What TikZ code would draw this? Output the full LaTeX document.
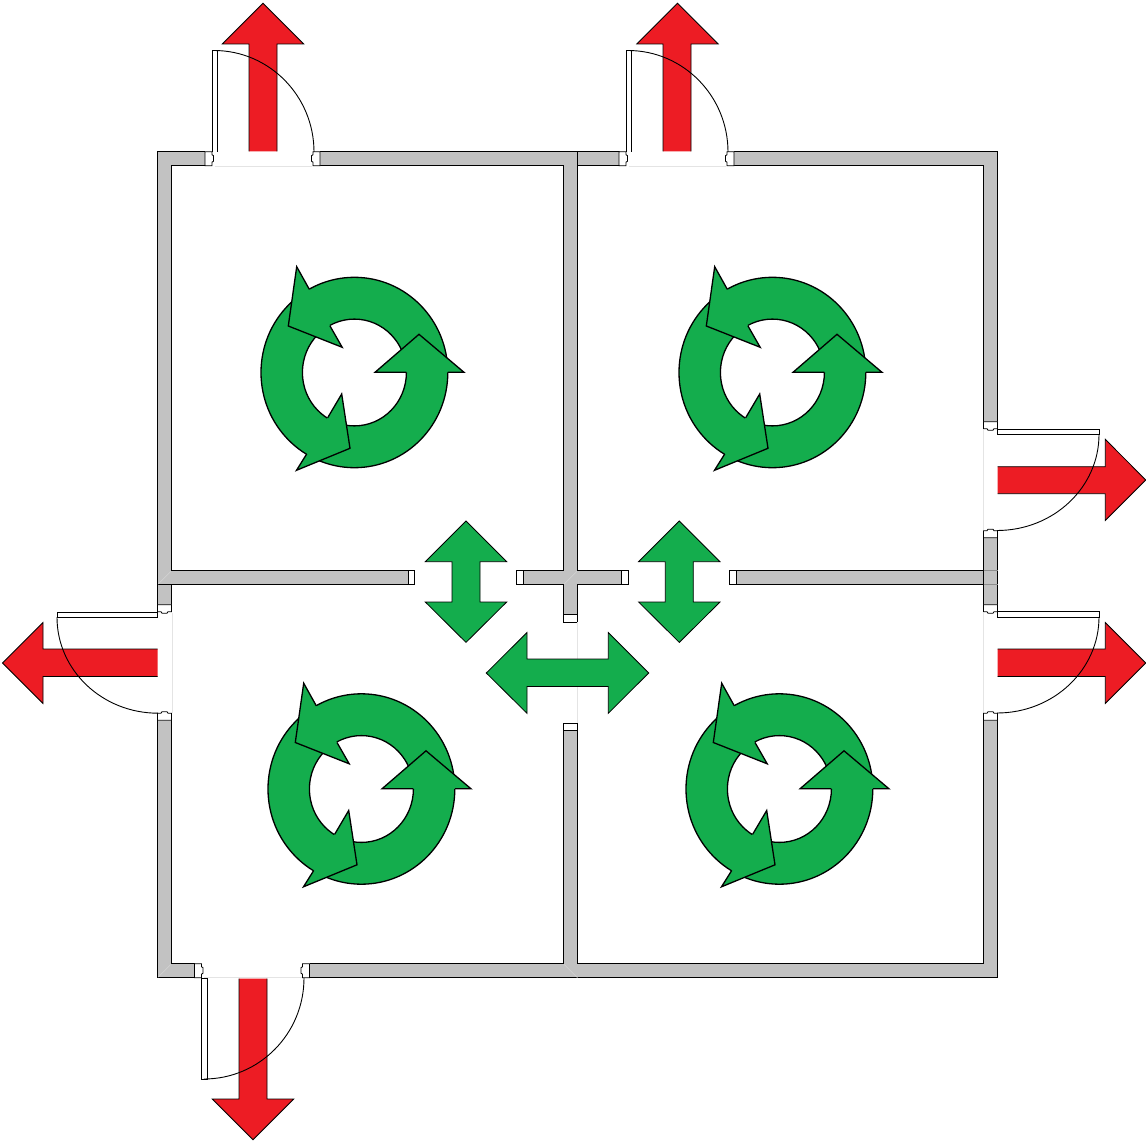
\documentclass[tikz,border=0pt]{standalone}
\definecolor{wallgray}{HTML}{C2C2C2}
\definecolor{exitred}{HTML}{ED1C24}
\definecolor{flowgreen}{HTML}{14AD4D}
\definecolor{seam}{HTML}{E4E4E4}
\tikzset{
  wallline/.style={draw=black,line width=0.95pt},
  jointline/.style={draw=black!45,line width=0.6pt},
  mitre/.style={draw=wallgray!70!white,line width=0.6pt},
  jamb/.style={fill=white,draw=black,line width=0.8pt},
  leaf/.style={fill=white,draw=black,line width=0.9pt},
  swing/.style={draw=black,line width=0.9pt},
  redarrow/.style={fill=exitred,draw=black,line width=0.8pt,line join=miter},
  greenarrow/.style={fill=flowgreen,draw=black,line width=0.8pt,line join=miter},
  ringbody/.style={fill=flowgreen,draw=black,line width=1.3pt,even odd rule},
  headfill/.style={fill=flowgreen,draw=none},
  headline/.style={draw=black,line width=1.3pt,line join=miter},
  seamline/.style={draw=seam,line width=0.8pt}
}
\newcommand{\ringsym}[2]{%
  \begin{scope}[shift={(#1,#2)}]
    \path[ringbody] (354.4,372.5) ellipse[x radius=93.4,y radius=95.2] (354.4,372.5) ellipse[x radius=52,y radius=53.4];
    \fill[headfill] (406.4,372.3)--(375,372.3)--(419,334.3)--(464,372.3)--(447.8,372.3)--cycle;
    \draw[headline] (406.4,372.3)--(375,372.3)--(419,334.3)--(464,372.3)--(447.8,372.3);
    \fill[headfill] (327.7,417.7)--(341.7,394)--(350,448.3)--(296.5,470.3)--(306.7,454)--cycle;
    \draw[headline] (327.7,417.7)--(341.7,394)--(350,448.3)--(296.5,470.3)--(306.7,454);
    \fill[headfill] (330,326)--(342.2,347.3)--(288.3,326)--(296.7,266.7)--(309.3,289.3)--cycle;
    \draw[headline] (330,326)--(342.2,347.3)--(288.3,326)--(296.7,266.7)--(309.3,289.3);
  \end{scope}}
\newcommand{\hjambL}[2]{%
  \draw[jamb] (#1,#2)--(#1+7,#2)--(#1+7,#2+3)--(#1+8.5,#2+4)--(#1+8.5,#2+9.5)--(#1+7,#2+10.5)--(#1+7,#2+14)--(#1,#2+14)--cycle;}
\newcommand{\hjambR}[2]{%
  \draw[jamb] (#1,#2)--(#1-7,#2)--(#1-7,#2+3)--(#1-8.5,#2+4)--(#1-8.5,#2+9.5)--(#1-7,#2+10.5)--(#1-7,#2+14)--(#1,#2+14)--cycle;}
\newcommand{\vjambT}[2]{%
  \draw[jamb] (#1,#2)--(#1,#2+7)--(#1+3.5,#2+7)--(#1+4.5,#2+8.5)--(#1+9.5,#2+8.5)--(#1+10.5,#2+7)--(#1+14,#2+7)--(#1+14,#2)--cycle;}
\newcommand{\vjambB}[2]{%
  \draw[jamb] (#1,#2)--(#1,#2-7)--(#1+3.5,#2-7)--(#1+4.5,#2-8.5)--(#1+9.5,#2-8.5)--(#1+10.5,#2-7)--(#1+14,#2-7)--(#1+14,#2)--cycle;}
\begin{document}
\begin{tikzpicture}[x=1pt,y=-1pt]
\useasboundingbox (0,0) rectangle (1146,1142);
\begin{scope}[xshift=-0.5pt,yshift=0.3pt]
% wall fill
\fill[wallgray] (158,152) rectangle (998,166);
\fill[wallgray] (158,964) rectangle (998,978);
\fill[wallgray] (158,152) rectangle (172,978);
\fill[wallgray] (984,152) rectangle (998,978);
\fill[wallgray] (564,152) rectangle (578,622);
\fill[wallgray] (564,723) rectangle (578,978);
\fill[wallgray] (158,571) rectangle (415,585);
\fill[wallgray] (517,571) rectangle (628,585);
\fill[wallgray] (730,571) rectangle (998,585);
% door openings cleared
\fill[white] (206,151) rectangle (320.5,167);
\fill[white] (620,151) rectangle (734.5,167);
\fill[white] (195,963) rectangle (310,979);
\fill[white] (157,605) rectangle (173,721);
\fill[white] (983,422) rectangle (999,538);
\fill[white] (983,605) rectangle (999,721);
% wall outlines
\draw[wallline] (205.5,152)--(158,152)--(158,605);
\draw[wallline] (158,720.5)--(158,978)--(195,978);
\draw[wallline] (310,978)--(998,978)--(998,720.5);
\draw[wallline] (998,605)--(998,538);
\draw[wallline] (998,422)--(998,152)--(734.5,152);
\draw[wallline] (620,152)--(320.5,152);
\draw[wallline] (205.5,166)--(172,166)--(172,571)--(408.5,571);
\draw[wallline] (172,605)--(172,585)--(408.5,585);
\draw[wallline] (172,720.5)--(172,964)--(195,964);
\draw[wallline] (310,964)--(564,964)--(564,730);
\draw[wallline] (578,730)--(578,964)--(984,964)--(984,720.5);
\draw[wallline] (984,605)--(984,585)--(736.5,585);
\draw[wallline] (736.5,571)--(984,571)--(984,538);
\draw[wallline] (984,422)--(984,166)--(734.5,166);
\draw[wallline] (620,166)--(578,166)--(578,571)--(621.5,571);
\draw[wallline] (320.5,166)--(564,166)--(564,571)--(523.5,571);
\draw[wallline] (523.5,585)--(564,585)--(564,615);
\draw[wallline] (578,615)--(578,585)--(621.5,585);
% joints between wall pieces
\draw[wallline] (578,152)--(578,166);
\draw[wallline] (984,571)--(984,585);
\draw[wallline] (158,585)--(172,585);
\draw[jointline] (984,571)--(998,571);
\draw[jointline] (984,585)--(998,585);
\draw[mitre] (564.5,584.5)--(577.5,571.5);
\draw[mitre] (158.5,977.5)--(171.5,964.5);
\draw[mitre] (158.5,584.5)--(171.5,571.5);
\draw[mitre] (564.5,964.5)--(578,978);
% wall end caps
\draw[jamb] (408.7,571) rectangle (415.3,585);
\draw[jamb] (517,571) rectangle (523.5,585);
\draw[jamb] (621.5,571) rectangle (628.5,585);
\draw[jamb] (730,571) rectangle (736.5,585);
\draw[jamb] (564,615) rectangle (578,622.3);
\draw[jamb] (564,723.5) rectangle (578,730.5);
% seams
\draw[seamline] (215,166.5)--(312,166.5);
\draw[seamline] (629,166.5)--(726,166.5);
\draw[seamline] (204,977.5)--(302,977.5);
\draw[seamline] (172.5,613)--(172.5,713);
\draw[seamline] (984,430)--(984,530);
\draw[seamline] (984,613)--(984,713);
\draw[seamline] (578,622.5)--(578,723);
% jambs
\hjambL{205.5}{152} \hjambR{320.5}{152}
\hjambL{619.5}{152} \hjambR{734.5}{152}
\hjambL{195}{964}   \hjambR{310}{964}
\vjambT{158}{605}   \vjambB{158}{720.5}
\vjambT{984}{422}   \vjambB{984}{538}
\vjambT{984}{605}   \vjambB{984}{720.5}
\end{scope}
% red exit arrows
\draw[redarrow] (249,151.5)--(249,44)--(222.3,44)--(263,3.3)--(303.7,44)--(277,44)--(277,151.5);
\draw[redarrow] (663,151.5)--(663,44)--(636.8,44)--(677.5,3.3)--(718.2,44)--(691,44)--(691,151.5);
\draw[redarrow] (997.5,466.7)--(1105.3,466.7)--(1105.3,439.3)--(1145.7,480)--(1105.3,520.5)--(1105.3,493.7)--(997.5,493.7);
\draw[redarrow] (997.5,649)--(1105.3,649)--(1105.3,622.5)--(1145.7,663)--(1105.3,703.5)--(1105.3,676.5)--(997.5,676.5);
\draw[redarrow] (157.5,649)--(43,649)--(43,622.5)--(2.5,663)--(43,703.5)--(43,676.5)--(157.5,676.5);
\draw[redarrow] (239,978.5)--(239,1099)--(212.3,1099)--(253,1139.7)--(293.7,1099)--(267,1099)--(267,978.5);
% door leaves and swings
\draw[leaf] (212.3,50.5)--(212.3,152) (217.3,152)--(217.3,50.5)--(212.3,50.5);
\draw[leaf] (626.3,50.5)--(626.3,152) (631.3,152)--(631.3,50.5)--(626.3,50.5);
\draw[leaf] (997.5,429.5) rectangle (1099,434.5);
\draw[leaf] (997.5,611.7) rectangle (1099,617);
\draw[leaf] (57,612) rectangle (157.5,617.2);
\draw[leaf] (201.5,978) rectangle (207.3,1079);
\draw[swing] (214,50.5) arc[start angle=90,end angle=0,x radius=100,y radius=-101.5];
\draw[swing] (628,50.5) arc[start angle=90,end angle=0,x radius=100,y radius=-101.5];
\draw[swing] (1099,434.5) arc[start angle=0,end angle=-90,x radius=102,y radius=-96];
\draw[swing] (1099,617) arc[start angle=0,end angle=-90,x radius=102,y radius=-96];
\draw[swing] (57,617.2) arc[start angle=180,end angle=270,x radius=101,y radius=-96];
\draw[swing] (204,1079) arc[start angle=-90,end angle=0,x radius=100,y radius=-101];
% green two-way arrows
\draw[greenarrow] (466,521)--(506.7,561.7)--(480,561.7)--(480,602)--(506.7,602)--(466,642.4)--(425.3,602)--(452,602)--(452,561.7)--(425.3,561.7)--cycle;
\draw[greenarrow] (679.3,521)--(720,561.7)--(693.3,561.7)--(693.3,602)--(720,602)--(679.3,642.4)--(638.6,602)--(665.3,602)--(665.3,561.7)--(638.6,561.7)--cycle;
\draw[greenarrow] (486.3,673)--(527,632.5)--(527,659)--(608.3,659)--(608.3,632.5)--(648.7,673)--(608.3,713.3)--(608.3,686.5)--(527,686.5)--(527,713.3)--cycle;
% circulation rings
\ringsym{0}{0}
\ringsym{418}{0}
\ringsym{7}{416.5}
\ringsym{425}{416.5}
\end{tikzpicture}
\end{document}
